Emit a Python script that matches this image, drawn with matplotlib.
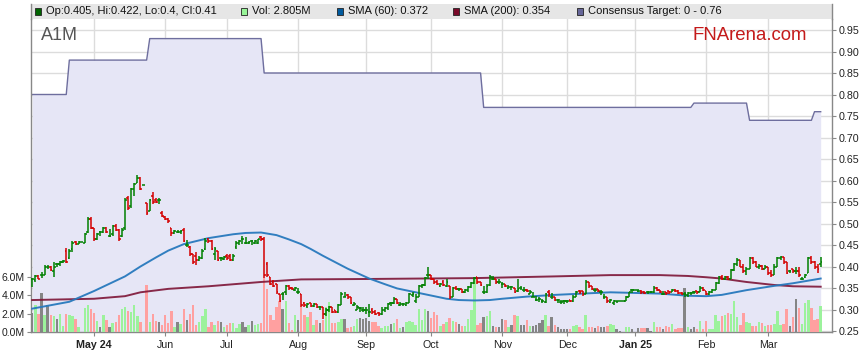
import numpy as np
import pandas as pd
import matplotlib
matplotlib.use("Agg")
import matplotlib.pyplot as plt
from matplotlib.collections import LineCollection
from matplotlib.lines import Line2D
from matplotlib.patches import Rectangle

plt.rcParams["font.family"] = ["Liberation Sans", "DejaVu Sans"]

# weekday bars shown on the chart (holidays drawn as flat bars)
dates = pd.bdate_range("2024-04-03", "2025-03-26")

# daily prices in cents, one row per month (Apr 24 .. Mar 25)
opens = [
    37, 36.8, 37.8, 38, 38, 40, 40, 39, 40.5, 40.5, 41, 43.5, 42, 44, 45.8, 45.3, 45.7, 45.5, 48, 51,
    49, 46.5, 48, 48, 49, 47, 47.5, 49.5, 48.5, 47, 49, 56, 54, 58, 59.5, 60.5, 59, 54.8, 53, 56.5, 55.5, 55.5, 52.5,
    51.5, 51, 49, 47.8, 48, 48, 48.5, 45, 44.5, 43, 42.5, 41.5, 42, 44, 46.5, 46, 43, 43.5, 42, 41.8,
    42.5, 42.5, 41.5, 44.5, 45.5, 46.5, 45.5, 45.5, 46, 45.5, 45.5, 46.8, 46.5, 40.5, 37.5, 36.5, 36, 33.5, 33.5, 34, 35.5, 35, 34.5,
    34, 33.5, 31.5, 30.8, 31.5, 30.8, 31.2, 30.5, 30.5, 29, 30, 30.5, 29.8, 29.5, 31, 33, 33.3, 33, 31, 30, 30.3, 30,
    30, 29.5, 30, 29.5, 29.3, 29, 30, 30.3, 31.5, 31.5, 32.5, 31, 31.2, 31, 31.5, 33.3, 32, 33, 35.5, 35.8, 38,
    38, 37, 36.5, 35.5, 36.5, 35.5, 35.5, 33, 35, 34.8, 34.8, 34, 34.5, 35.3, 36.2, 37.5, 36.5, 34, 34, 35.8, 37.2, 37, 36.3,
    36, 36, 35, 35.2, 35, 34.2, 35, 34.5, 34.5, 33.5, 33, 32.3, 32.5, 32, 31.8, 34, 33, 33, 32.2, 31.8, 32,
    32, 32.3, 32, 33, 34.2, 34.2, 33.5, 36.5, 35.5, 34.5, 34.8, 34, 33, 32.8, 31.8, 31.5, 32, 32, 32, 32, 33, 34.5,
    34.5, 34.3, 34.3, 34, 34, 34, 34, 35, 34.5, 33.5, 34, 34.2, 34, 34.5, 34.3, 33.8, 33.5, 33.3, 33.8, 34, 34.2, 34, 35,
    34.3, 33.5, 34, 34.5, 36.2, 37.5, 37, 37.5, 37, 39.2, 40.5, 41.5, 40, 39, 39.5, 42, 41, 40, 40.2, 39.5,
    40, 38.5, 38, 40, 42, 42.3, 41, 39, 39.5, 39, 39, 37, 37.5, 38.5, 42, 41, 40, 40.5,
]
highs = [
    37.3, 38, 38, 38.7, 40.3, 40.3, 40.2, 41, 40.8, 41.2, 41.5, 44.3, 44, 46, 46, 46, 45.7, 47.8, 51.5, 51.5,
    49, 47.8, 48.3, 49.2, 49.3, 48.8, 49.7, 49.8, 48.8, 49, 56, 56.5, 58.2, 59.5, 61.3, 60.7, 59, 54.8, 55.8, 57.3, 56, 56, 52.8,
    51.8, 51.2, 49, 48.5, 48.5, 48.5, 49, 46.2, 44.8, 43, 43.3, 42.5, 44, 46.6, 46.6, 46.2, 44.5, 43.5, 42.3, 42.5,
    43, 43, 42.8, 46, 46.2, 47, 46.8, 46, 46.2, 46.2, 46.5, 47, 46.8, 41, 37.5, 36.8, 36, 33.5, 34, 35.7, 35.8, 35.2, 35.2,
    35, 33.5, 31.8, 31.5, 31.5, 31.5, 31.3, 30.8, 30.5, 30.3, 30.8, 30.5, 30, 31.2, 34, 34, 33.5, 33, 31.8, 31, 30.6, 30.6,
    30.6, 31.3, 30.3, 29.8, 29.5, 30.5, 30.5, 31.5, 31.8, 32.8, 32.5, 31.8, 31.5, 31.8, 33.8, 34, 33.5, 35.7, 36, 37.5, 40,
    38, 37.2, 36.8, 36.2, 36.8, 37, 35.5, 35.3, 35.5, 35, 34.8, 34.8, 35.5, 36.5, 37.5, 37.5, 36.5, 35.5, 36, 38, 37.8, 37, 37,
    36.3, 36, 35.8, 35.5, 35, 37.2, 35.5, 35.2, 34.8, 34.5, 34, 33.2, 32.8, 32.5, 33.8, 34.5, 33.8, 33, 32.5, 32.3, 32.3,
    32.2, 32.3, 33.3, 34.3, 34.5, 34.2, 36.8, 36.5, 35.5, 35, 34.8, 34.5, 33.5, 33, 32.5, 32.2, 32, 32, 32, 33.2, 34, 34.8,
    34.5, 34.8, 34.5, 34.3, 34.3, 34.3, 35.5, 35.2, 34.5, 34.2, 34, 34.3, 34.8, 34.8, 34.5, 34, 34, 34, 34, 34.2, 34.3, 35.5, 35.2,
    34.3, 34.3, 34.8, 36.5, 37.8, 38, 37.8, 37.8, 39.5, 40.8, 42, 41.5, 40.5, 39.8, 42.3, 42.3, 41.2, 40.5, 40.3, 40.3,
    40, 39.3, 40.5, 42.3, 42.5, 42.3, 41, 39.3, 39.5, 40, 40, 37.5, 38.3, 42.3, 42.5, 41.2, 40.5, 42.2,
]
lows = [
    35.2, 36.5, 37, 37.3, 38, 39.5, 39, 37.5, 39.8, 40.2, 40.8, 40.8, 41.8, 43.4, 45, 45.2, 45.7, 45.5, 47.8, 48.8,
    46, 46.2, 47, 47.8, 47.8, 46.8, 47.2, 48.2, 46, 46.8, 48.5, 53.2, 53.5, 56.5, 59.5, 57.7, 59, 52, 52.8, 54.5, 54.8, 54.5, 51.5,
    50.8, 50.2, 47, 47.5, 47.8, 47.5, 45.7, 44.5, 42.5, 40.5, 40.3, 41.2, 41.8, 43.8, 45.5, 43.8, 41.5, 41.2, 41.3, 41.5,
    41.5, 41.2, 41.3, 44, 45, 45.3, 45.3, 45.2, 45, 45.3, 45.3, 46, 37.3, 37.5, 35.7, 35.2, 33.5, 31.8, 32.3, 33.4, 34.5, 34.5, 34.2,
    33.5, 30.6, 30.5, 30.3, 30.5, 30.5, 30.3, 29.8, 27.8, 28.5, 29.5, 29.3, 29.2, 29.3, 31, 32.8, 32.5, 31.3, 30.8, 29.8, 29.5, 29.5,
    29, 28.3, 29, 28.8, 28.5, 28.8, 29.5, 29.8, 30.8, 31.3, 31.2, 30.8, 30.8, 30.8, 31.5, 33, 31.5, 33, 35, 35.5, 37,
    36.8, 36, 35.8, 35.3, 35.5, 35.3, 32.5, 32.8, 34.5, 34.3, 33.8, 33.8, 34, 35, 36, 36, 35.5, 33.5, 33.8, 35.5, 36.8, 36, 36,
    35, 35.2, 34.8, 34.5, 33.8, 34, 34.5, 34, 34, 33.5, 32.8, 32, 31.8, 31.5, 31.5, 33, 32.5, 32, 31.5, 31.3, 31.3,
    31.5, 31.8, 31.8, 32.8, 33.5, 33.2, 33.5, 35, 34.5, 34, 34, 33.3, 32.5, 31.5, 31.5, 31, 31.5, 32, 32, 32, 32.8, 33.8,
    34.5, 34, 33.5, 33.5, 33.5, 33.8, 33.8, 34.3, 33.8, 33.3, 33.3, 33.5, 34, 34, 33.5, 33.3, 33, 33, 33.3, 33.5, 33.5, 34, 34.3,
    33.3, 33.3, 33.8, 34.5, 36, 36.8, 36.8, 36.8, 37, 39, 40.2, 39.8, 38.5, 38, 39.5, 40.5, 39.8, 39.5, 39.2, 39.5,
    38, 37.5, 38, 40, 41.5, 40.5, 38.3, 38.5, 38.5, 38.3, 37.5, 36.8, 37.3, 38.5, 40.5, 39.5, 38.5, 40,
]
closes = [
    37, 37.8, 37.2, 38, 40, 40, 39.2, 40, 40.5, 41, 41.3, 41, 43.5, 45.5, 45.3, 45.7, 45.7, 47.5, 51, 49,
    46.5, 47.5, 48, 49, 48, 47, 49.5, 48.5, 46.5, 48.5, 55.5, 53.5, 58, 59.3, 60.5, 58, 59, 52.5, 55.5, 55, 55, 55.5, 51.8,
    51, 50.5, 47.8, 48.2, 48, 48.3, 46, 45, 43, 41, 41.5, 42, 43.5, 46, 46, 44, 44, 41.5, 42, 42.2,
    42, 41.5, 42.5, 45.5, 46, 46.5, 45.5, 45.8, 46, 46, 46.3, 46.5, 38, 38, 36, 35.5, 34, 32, 33.5, 35.5, 35, 34.8, 35,
    34, 31, 31, 31.2, 30.8, 31.2, 30.5, 30.5, 29, 30, 30.5, 29.5, 29.5, 31, 33.5, 33, 33, 31.5, 31.3, 30.5, 30.3, 30,
    30, 29.5, 29.5, 29, 29, 30, 30.3, 31.2, 31.5, 32.5, 31.5, 31.3, 31.2, 31.5, 33.5, 33.5, 33, 35.5, 35.8, 37.3, 38,
    37, 36.5, 36, 36, 35.8, 36.5, 33, 35, 34.8, 34.8, 34, 34.5, 35.3, 36.2, 37.3, 36.5, 35.8, 34, 35.5, 37.5, 37.2, 36.5, 36.3,
    36, 35.5, 35.3, 35.2, 34, 34.8, 35, 34.5, 34.3, 34, 33, 32.3, 32.5, 32, 33.5, 33.5, 33, 32.3, 32.2, 31.8, 32,
    32, 32, 33, 34, 34, 33.5, 36.5, 35.5, 34.8, 34.5, 34.3, 34, 33, 32, 32.2, 32, 32, 32, 32, 33, 34, 34.5,
    34.5, 34.3, 34, 33.8, 34, 34, 35, 34.5, 34, 33.5, 33.8, 34, 34.5, 34.3, 33.8, 33.5, 33.5, 33.8, 33.8, 34, 34, 35, 34.5,
    33.5, 34, 34.5, 36.2, 37.5, 37, 37.5, 37, 39.2, 40.5, 41.5, 40, 39, 39.5, 42, 41, 40, 40.2, 39.5, 40,
    38.5, 38, 40, 42, 42.3, 41, 38.5, 39, 39, 39, 38, 37.2, 38, 42, 41, 40, 39.5, 41,
]
# daily volume, millions of shares
volumes = [
    2.1, 2.9, 2.0, 4.3, 1.9, 3.0, 1.9, 1.8, 1.4, 2.0, 0.7, 2.0, 1.9, 1.8, 1.4, 0.5, 0, 2.6, 3.0, 2.5,
    2.1, 1.2, 0.6, 1.9, 1.3, 0.5, 1.0, 1.1, 1.9, 2.5, 2.7, 2.3, 2.2, 3.0, 1.8, 1.1, 0, 5.1, 1.1, 2.0, 1.2, 1.1, 0.8,
    1.9, 1.0, 2.3, 0.5, 1.1, 0.9, 2.5, 1.3, 2.0, 2.9, 0.8, 1.1, 1.7, 2.5, 0.5, 1.1, 0.8, 1.2, 1.1, 0.6,
    0.8, 1.0, 1.0, 0.4, 0.9, 1.1, 0.6, 0.8, 1.2, 0.8, 0.9, 1.0, 5.9, 4.7, 1.9, 1.3, 2.7, 3.4, 2.5, 3.4, 1.0, 0.2, 1.9,
    1.3, 2.7, 1.9, 1.6, 2.2, 0.8, 1.3, 1.0, 1.3, 2.7, 3.3, 1.0, 1.0, 1.1, 1.4, 1.4, 0.4, 0.5, 0.7, 1.4, 1.5, 1.4,
    1.5, 1.2, 1.1, 1.1, 0.7, 0.4, 0.7, 0.7, 0.9, 1.0, 1.4, 0.4, 0.5, 1.1, 1.2, 1.1, 0.8, 2.5, 1.3, 2.5, 2.3,
    1.5, 2.2, 1.9, 0.7, 0.9, 1.1, 1.5, 1.2, 1.1, 0.9, 0.7, 0.7, 1.4, 2.4, 6.0, 0.8, 1.0, 1.6, 1.8, 2.3, 0.7, 0.6, 0.5,
    1.4, 1.3, 0.5, 0.8, 1.9, 1.8, 0.8, 0.8, 1.3, 0.7, 0.7, 0.8, 1.0, 1.3, 1.9, 0.7, 1.6, 0.8, 0.5, 0.3, 0.3,
    0.3, 0.3, 0.7, 0.8, 0.5, 0.3, 1.9, 0.5, 0.6, 0.4, 0.7, 0.6, 0.5, 0.7, 0.9, 0.8, 0.3, 0.1, 0, 0.6, 0.6, 0.3,
    0, 0.4, 0.4, 0.4, 0.4, 0.1, 1.1, 0.5, 0.5, 0.3, 0.7, 0.5, 0.9, 0.3, 0.4, 0.4, 4.8, 0.5, 0.3, 0.6, 0.3, 1.2, 0.3,
    1.2, 0.3, 0.3, 1.9, 1.2, 1.8, 1.9, 2.1, 2.0, 3.4, 1.6, 0.8, 2.1, 1.1, 1.0, 0.7, 0.7, 1.1, 1.0, 0.7,
    0.8, 0.8, 0.9, 2.3, 0.8, 0.9, 2.5, 0.7, 1.6, 3.6, 2.6, 0.9, 3.2, 3.5, 2.6, 1.3, 1.4, 2.805,
]

sma60_dates = ["2024-04-03", "2024-04-19", "2024-05-01", "2024-05-15", "2024-05-22", "2024-05-29",
               "2024-06-04", "2024-06-11", "2024-06-21", "2024-07-03", "2024-07-09", "2024-07-16",
               "2024-07-23", "2024-07-29", "2024-08-02", "2024-08-07", "2024-08-13", "2024-08-23",
               "2024-09-03", "2024-09-10", "2024-09-16", "2024-09-26", "2024-10-08", "2024-10-14",
               "2024-10-21", "2024-10-28", "2024-11-01", "2024-11-13", "2024-11-26", "2024-12-09",
               "2024-12-20", "2025-01-13", "2025-01-24", "2025-02-03", "2025-02-10", "2025-02-20",
               "2025-03-05", "2025-03-13", "2025-03-26"]
sma60_values = [0.302, 0.318, 0.343, 0.377, 0.400, 0.421, 0.437, 0.452, 0.466, 0.475, 0.478, 0.479,
                0.473, 0.463, 0.452, 0.441, 0.425, 0.395, 0.372, 0.359, 0.349, 0.337, 0.325, 0.322,
                0.321, 0.322, 0.325, 0.330, 0.334, 0.337, 0.340, 0.337, 0.332, 0.331, 0.334, 0.345,
                0.355, 0.361, 0.372]

sma200_dates = ["2024-04-03", "2024-05-01", "2024-05-15", "2024-05-22", "2024-06-04", "2024-06-21",
                "2024-07-16", "2024-08-02", "2024-09-03", "2024-10-21", "2024-11-26", "2024-12-20",
                "2025-01-13", "2025-01-24", "2025-02-03", "2025-02-10", "2025-02-20", "2025-03-05",
                "2025-03-13", "2025-03-26"]
sma200_values = [0.322, 0.325, 0.331, 0.340, 0.348, 0.354, 0.364, 0.370, 0.371, 0.373, 0.377, 0.380,
                 0.380, 0.378, 0.375, 0.372, 0.364, 0.357, 0.354, 0.353]

# consensus target changes
target_dates = ["2024-04-03", "2024-04-19", "2024-05-27", "2024-07-17", "2024-10-24",
                "2025-01-28", "2025-02-21", "2025-03-24"]
target_values = [0.80, 0.88, 0.93, 0.85, 0.77, 0.78, 0.74, 0.76]

header_items = ["Op:0.405, Hi:0.422, Lo:0.4, Cl:0.41", "Vol: 2.805M", "SMA (60): 0.372",
                "SMA (200): 0.354", "Consensus Target: 0 - 0.76"]

# ---------------------------------------------------------------------------
W, H = 859, 363
fx = lambda px: px / W
fy = lambda py: 1 - py / H

o = np.array(opens) / 100
h = np.array(highs) / 100
l = np.array(lows) / 100
c = np.array(closes) / 100
v = np.array(volumes)
x = np.arange(len(dates))
assert len(o) == len(h) == len(l) == len(c) == len(v) == len(dates)

target = pd.Series(target_values, index=pd.to_datetime(target_dates)).reindex(dates, method="ffill")
s60_x = dates.get_indexer(pd.to_datetime(sma60_dates))
s200_x = dates.get_indexer(pd.to_datetime(sma200_dates))

month_start = [i for i in range(1, len(dates)) if dates[i].month != dates[i - 1].month]
month_lbl, month_bold = [], []
for k, i in enumerate(month_start):
    with_year = k == 0 or dates[i].month == 1
    month_lbl.append(dates[i].strftime("%b %y") if with_year else dates[i].strftime("%b"))
    month_bold.append(with_year)

pmin, pmax = 0.25 - 1 / 430, 0.25 + 312 / 430
fig = plt.figure(figsize=(W / 100, H / 100), dpi=100)
ax = fig.add_axes([fx(31), fy(332), 801 / W, 313 / H])
axv = ax.twinx()
axp = ax.twinx()
for a in (ax, axp):
    a.set_ylim(pmin, pmax)
ax.set_xlim(-0.4, -0.4 + 801 / 3.092)
axv.set_ylim(0, 313 / 9.15)

# background: grid, target area
ax.set_axisbelow(True)
ax.grid(True, color="#dcdcdc", lw=1)
ax.fill_between(x, pmin, target.values, color="#e6e6f6", lw=0, zorder=1)
ax.plot(x, target.values, color="#6e6e9e", lw=1.0, zorder=2)

# volume
vol_col = np.where(c > o, "#9cf29c", np.where(c < o, "#ffa0a0", "#858585"))
axv.bar(x, v, width=0.78, color=vol_col, lw=0)

# moving averages and price bars
axp.plot(s200_x, sma200_values, color="#7d1436", lw=1.4, alpha=0.9)
axp.plot(s60_x, sma60_values, color="#2779bd", lw=1.4, alpha=0.95)
bar_col = np.where(c >= o, "#008000", "#d40000")
segs, cols = [], []
for i in range(len(x)):
    segs += [[(x[i], l[i]), (x[i], h[i])],
             [(x[i] - 0.55, o[i]), (x[i], o[i])],
             [(x[i], c[i]), (x[i] + 0.55, c[i])]]
    cols += [bar_col[i]] * 3
axp.add_collection(LineCollection(segs, colors=cols, linewidths=1.1, capstyle="butt"))

# axes styling
ax.yaxis.tick_right()
ax.set_yticks(np.arange(0.25, 0.951, 0.05))
ax.set_yticklabels([f"{t:.2f}" for t in np.arange(0.25, 0.951, 0.05)])
ax.set_xticks(month_start)
ax.set_xticklabels(month_lbl)
for t, b in zip(ax.get_xticklabels(), month_bold):
    t.set_fontweight("bold" if b else "normal")
ax.tick_params(axis="y", length=3, color="#888888", labelsize=7.7, labelcolor="#222222", pad=1.5)
ax.tick_params(axis="x", length=3, color="#888888", labelsize=7.7, labelcolor="#222222", pad=2.5)
axv.yaxis.tick_left()
axv.set_yticks([0, 2, 4, 6])
axv.set_yticklabels(["0.0M", "2.0M", "4.0M", "6.0M"])
axv.tick_params(axis="y", length=3, color="#888888", labelsize=7.5, labelcolor="#222222", pad=1.5)
axp.yaxis.set_visible(False)
for a in (axv, axp):
    for s in a.spines.values():
        s.set_visible(False)
ax.spines["top"].set_visible(False)
for s in ("left", "right", "bottom"):
    ax.spines[s].set_color("#888888")
    ax.spines[s].set_linewidth(1.0)

# header band with legend
fig.add_artist(Rectangle((fx(31), fy(19)), 801 / W, 15 / H, transform=fig.transFigure,
                         facecolor="#e6e6e6", edgecolor="none"))
for xp in (31, 832):
    fig.add_artist(Line2D([fx(xp), fx(xp)], [fy(19), fy(4)], transform=fig.transFigure,
                          color="#888888", lw=1.0))
sq_x = [35, 241, 337, 453, 577]
sq_col = ["#006400", "#98f598", "#005a9e", "#7a0a2a", "#666699"]
for sx, col, txt in zip(sq_x, sq_col, header_items):
    fig.add_artist(Rectangle((fx(sx), fy(14.5)), 6 / W, 6 / H, transform=fig.transFigure,
                             facecolor=col, edgecolor="#222222", lw=0.6))
    fig.text(fx(sx + 11), fy(11.5), txt, fontsize=8, color="#111111", va="center")

fig.text(fx(41), fy(40), "A1M", fontsize=13, color="#555555", va="baseline")
fig.text(fx(693), fy(39.5), "FNArena.com", fontsize=13.4, color="#c41a1a", va="baseline")

fig.savefig("out.png", dpi=100)
